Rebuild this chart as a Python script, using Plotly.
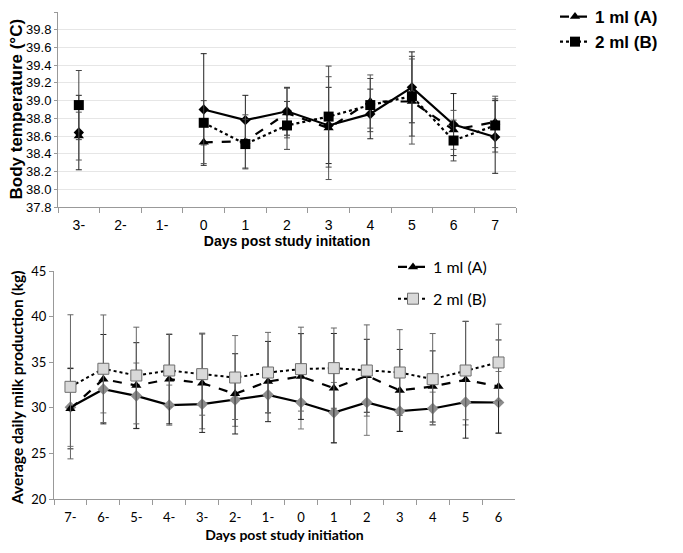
import plotly.graph_objects as go

# ---------------- Top chart data (body temperature) ----------------
temp_days = ["3-", "2-", "1-", "0", "1", "2", "3", "4", "5", "6", "7"]
temp_a = [38.60, None, None, 38.53, 38.54, 38.86, 38.69, 38.99, 38.99, 38.67, 38.76]
temp_a_err = [0.27, None, None, 0.24, 0.30, 0.28, 0.58, 0.30, 0.48, 0.22, 0.29]
temp_b = [38.95, None, None, 38.75, 38.51, 38.72, 38.82, 38.95, 39.05, 38.55, 38.72]
temp_b_err = [0.39, None, None, 0.25, 0.28, 0.27, 0.57, 0.30, 0.45, 0.23, 0.30]
temp_c = [38.64, None, None, 38.90, 38.78, 38.88, 38.72, 38.85, 39.15, 38.73, 38.59]
temp_c_err = [0.42, None, None, 0.63, 0.28, 0.27, 0.43, 0.28, 0.40, 0.35, 0.41]
temp_ticks = [37.8, 38.0, 38.2, 38.4, 38.6, 38.8, 39.0, 39.2, 39.4, 39.6, 39.8, 40.0]

# ---------------- Bottom chart data (milk production) ----------------
milk_days = ["7-", "6-", "5-", "4-", "3-", "2-", "1-", "0", "1", "2", "3", "4", "5", "6"]
milk_a = [29.9, 33.14, 32.44, 33.14, 32.70, 31.53, 32.88, 33.43, 32.15, 33.51, 31.90, 32.34, 33.07, 32.34]
milk_a_err = [4.4, 4.9, 4.7, 4.9, 5.4, 4.4, 4.4, 4.7, 6.0, 4.0, 4.5, 3.9, 6.4, 5.1]
milk_b = [32.30, 34.28, 33.54, 34.09, 33.69, 33.32, 33.87, 34.24, 34.35, 34.09, 33.87, 33.14, 34.09, 34.97]
milk_b_err = [7.9, 5.9, 5.3, 4.0, 4.5, 4.6, 4.4, 4.6, 4.4, 5.0, 4.7, 5.0, 5.4, 4.2]
milk_c = [30.07, 32.04, 31.31, 30.29, 30.40, 30.87, 31.42, 30.58, 29.48, 30.58, 29.63, 29.92, 30.62, 30.58]
milk_c_err = [4.3, 2.6, 3.6, 2.2, 2.7, 2.9, 2.0, 2.9, 3.3, 3.6, 2.2, 1.8, 2.5, 3.4]
milk_ticks = [20, 25, 30, 35, 40, 45]

NARROW = "Liberation Sans Narrow, Arial Narrow, Liberation Sans, Arial"
CAL = "Lato, Open Sans, sans-serif"

fig = go.Figure()

def err(vals, color):
    return dict(type="data", array=vals, visible=True, color=color, thickness=1, width=3)

# top chart traces
fig.add_trace(go.Scatter(x=temp_days, y=temp_c, mode="lines+markers", name="control",
                         line=dict(color="black", width=2.2, dash="solid"),
                         marker=dict(symbol="diamond", size=8, color="black"),
                         error_y=err(temp_c_err, "#222222"),
                         showlegend=False, xaxis="x", yaxis="y"))
fig.add_trace(go.Scatter(x=temp_days, y=temp_a, mode="lines+markers", name="<b>1 ml (A)</b>",
                         line=dict(color="black", width=2.2, dash="dash"),
                         marker=dict(symbol="triangle-up", size=9, color="black"),
                         error_y=err(temp_a_err, "#555555"),
                         legend="legend", xaxis="x", yaxis="y"))
fig.add_trace(go.Scatter(x=temp_days, y=temp_b, mode="lines+markers", name="<b>2 ml (B)</b>",
                         line=dict(color="black", width=2.2, dash="dot"),
                         marker=dict(symbol="square", size=10, color="black"),
                         error_y=err(temp_b_err, "#444444"),
                         legend="legend", xaxis="x", yaxis="y"))

# bottom chart traces
fig.add_trace(go.Scatter(x=milk_days, y=milk_c, mode="lines+markers", name="control",
                         line=dict(color="black", width=2.2, dash="solid"),
                         marker=dict(symbol="diamond", size=9, color="#8c8c8c"),
                         error_y=err(milk_c_err, "#777777"),
                         showlegend=False, xaxis="x2", yaxis="y2"))
fig.add_trace(go.Scatter(x=milk_days, y=milk_a, mode="lines+markers", name="1 ml (A)",
                         line=dict(color="black", width=2.2, dash="dash"),
                         marker=dict(symbol="triangle-up", size=9, color="black"),
                         error_y=err(milk_a_err, "#222222"),
                         legend="legend2", legendgroup="a", xaxis="x2", yaxis="y2"))
fig.add_trace(go.Scatter(x=milk_days, y=milk_b, mode="lines+markers", name="2 ml (B)",
                         line=dict(color="black", width=2, dash="dot"),
                         marker=dict(symbol="square", size=11, color="#d9d9d9",
                                     line=dict(color="#6e6e6e", width=1)),
                         error_y=err(milk_b_err, "#666666"),
                         legend="legend2", legendgroup="b", xaxis="x2", yaxis="y2"))

# page has an 8px body margin: figure is 667x537, screen coords = figure coords + 8
W, H = 667, 537
OFF = 8
def px(x): return (x - OFF) / W
def py(y): return (H - (y - OFF)) / H

fig.update_layout(
    width=W, height=H,
    margin=dict(l=0, r=0, t=0, b=0, autoexpand=False),
    paper_bgcolor="white", plot_bgcolor="white",
    xaxis=dict(domain=[px(58), px(516)], type="category", categoryorder="array",
               categoryarray=temp_days, range=[-0.5, len(temp_days) - 0.5],
               tickson="boundaries", ticks="outside", ticklabelstandoff=5,
               ticklen=5, tickcolor="#999999", showline=True, linecolor="#999999",
               showgrid=False, zeroline=False,
               tickfont=dict(family=NARROW, size=14, color="black"),
               title=dict(text="<b>Days post study initation</b>", standoff=2,
                          font=dict(family=NARROW, size=14, color="black")),
               anchor="y"),
    yaxis=dict(domain=[py(207), py(12)], range=[37.8, 40.0], tickvals=temp_ticks,
               ticktext=[f"{v:.1f}" for v in temp_ticks],
               showgrid=True, gridcolor="#e6e6e6", gridwidth=1,
               showline=True, linecolor="#999999", ticks="outside", ticklen=3,
               tickcolor="#999999", zeroline=False,
               tickfont=dict(family=NARROW, size=13, color="black"),
               anchor="x"),
    xaxis2=dict(domain=[px(54), px(515)], type="category", categoryorder="array",
                categoryarray=milk_days, range=[-0.5, len(milk_days) - 0.5],
                tickson="boundaries", ticks="outside", ticklabelstandoff=6,
                ticklen=5, tickcolor="#999999", showline=True, linecolor="#999999",
                showgrid=False, zeroline=False,
                tickfont=dict(family=CAL, size=13, color="black"),
                title=dict(text="<b>Days post study initiation</b>", standoff=6,
                           font=dict(family=CAL, size=14, color="black")),
                anchor="y2"),
    yaxis2=dict(domain=[py(499), py(271)], range=[20, 45], tickvals=milk_ticks,
                showgrid=False, showline=True, linecolor="#999999", ticks="outside",
                ticklen=4, tickcolor="#999999", zeroline=False,
                tickfont=dict(family=CAL, size=13, color="black"),
                anchor="x2"),
    legend=dict(x=px(555), y=py(-1), xanchor="left", yanchor="top",
                bgcolor="rgba(0,0,0,0)", tracegroupgap=0, itemwidth=30,
                font=dict(family=NARROW, size=17, color="black"),
                traceorder="normal", itemsizing="trace"),
    legend2=dict(x=px(393), y=py(250), xanchor="left", yanchor="top",
                 bgcolor="rgba(0,0,0,0)", itemwidth=30,
                 font=dict(family=CAL, size=16, color="black"),
                 traceorder="grouped", tracegroupgap=8),
    showlegend=True,
    annotations=[
        dict(text="<b>Body temperature (°C)</b>", textangle=-90, showarrow=False,
             xref="paper", yref="paper", x=px(16.5), y=py(109), xanchor="center", yanchor="middle",
             font=dict(family="Liberation Sans, Arial", size=17, color="black")),
        dict(text="<b>Average daily milk production (kg)</b>", textangle=-90, showarrow=False,
             xref="paper", yref="paper", x=px(17), y=py(388), xanchor="center", yanchor="middle",
             font=dict(family=CAL, size=15.5, color="black")),
    ],
)

fig.write_html("out.html")
